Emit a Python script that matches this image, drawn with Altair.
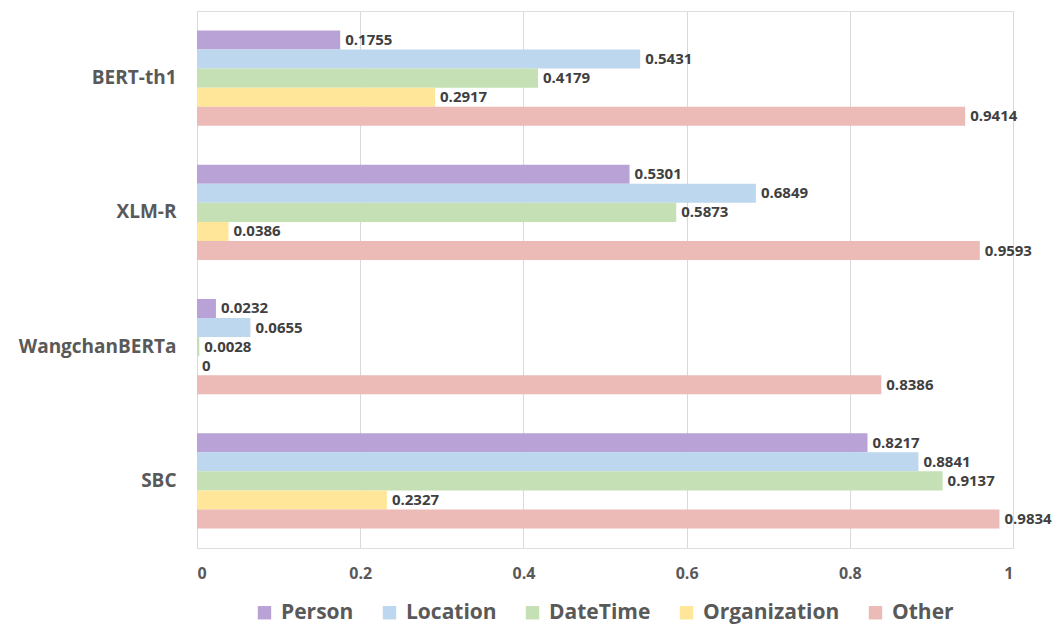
import altair as alt
import pandas as pd

models = ["BERT-th1", "XLM-R", "WangchanBERTa", "SBC"]
series = ["Person", "Location", "DateTime", "Organization", "Other"]
colors = ["#b9a2d5", "#bdd7ee", "#c5e0b4", "#ffe699", "#ecbab7"]

person = [0.1755, 0.5301, 0.0232, 0.8217]
location = [0.5431, 0.6849, 0.0655, 0.8841]
datetime_ = [0.4179, 0.5873, 0.0028, 0.9137]
organization = [0.2917, 0.0386, 0.0, 0.2327]
other = [0.9414, 0.9593, 0.8386, 0.9834]

vals = [person, location, datetime_, organization, other]
rows = []
for s, v in zip(series, vals):
    for m, x in zip(models, v):
        rows.append({"model": m, "series": s, "value": x, "label": f"{x:g}"})
df = pd.DataFrame(rows)

FONT = "Open Sans"

y_enc = alt.Y("model:N", sort=models, title=None,
              scale=alt.Scale(paddingInner=0.29, paddingOuter=0.145),
              axis=alt.Axis(labelFontSize=19, labelFontWeight="bold", labelColor="#595959",
                            labelFont=FONT, ticks=False, domain=False, labelPadding=21))
yoff = alt.YOffset("series:N", sort=series, scale=alt.Scale(paddingInner=0, paddingOuter=0))

bars = alt.Chart(df).mark_bar(opacity=1).encode(
    x=alt.X("value:Q", title=None,
            scale=alt.Scale(domain=[0, 1], nice=False),
            axis=alt.Axis(values=[0, 0.2, 0.4, 0.6, 0.8, 1], format="~g",
                          labelFontSize=16, labelFontWeight="bold", labelColor="#595959",
                          labelFont=FONT, grid=True, gridColor="#d9d9d9", domain=False,
                          ticks=False, labelPadding=17)),
    y=y_enc,
    yOffset=yoff,
    color=alt.Color("series:N", sort=series,
                    scale=alt.Scale(domain=series, range=colors),
                    legend=alt.Legend(title=None, orient="none", direction="horizontal",
                                      legendX=57, legendY=591, symbolType="square",
                                      symbolSize=180, symbolStrokeWidth=0, labelFontSize=21,
                                      labelFontWeight="bold", labelColor="#595959",
                                      labelFont=FONT, columnPadding=25, labelOffset=6)),
)

text = alt.Chart(df).mark_text(align="left", baseline="middle", dx=5, fontSize=15,
                               fontWeight="bold", color="#404040", font=FONT).encode(
    x="value:Q",
    y=alt.Y("model:N", sort=models),
    yOffset=yoff,
    text="label:N",
)

chart = alt.layer(bars, text).properties(
    width=816, height=537,
    autosize=alt.AutoSizeParams(type="none"),
    padding={"left": 197, "top": 11, "right": 47, "bottom": 78},
).configure_view(stroke=None).configure(background="white")

chart.save("out.html", embed_options={"renderer": "svg", "actions": False})
